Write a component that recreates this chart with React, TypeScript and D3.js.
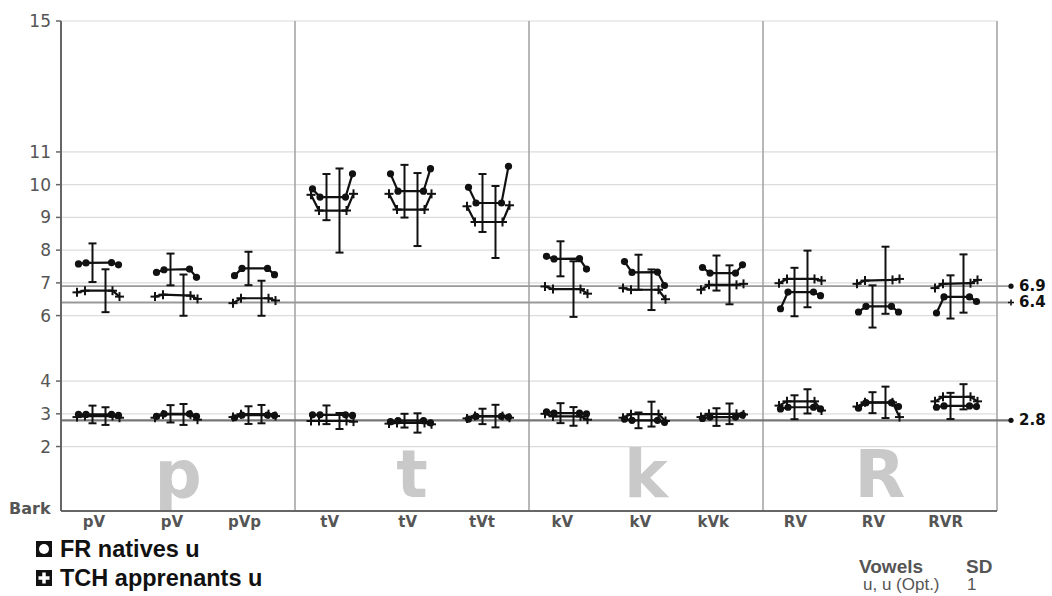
import React from "react";
import * as d3 from "d3";

const groups = ["p", "t", "k", "R"];
const categories = ["pV", "pV", "pVp", "tV", "tV", "tVt", "kV", "kV", "kVk", "RV", "RV", "RVR"];
const yTicks = [2, 3, 4, 6, 7, 8, 9, 10, 11, 15];

// F2 trajectories (Bark), 4 points each
const frF2 = [
  [7.58, 7.61, 7.62, 7.55],
  [7.32, 7.4, 7.42, 7.17],
  [7.22, 7.44, 7.44, 7.25],
  [9.87, 9.62, 9.62, 10.33],
  [10.33, 9.8, 9.8, 10.49],
  [9.92, 9.44, 9.44, 10.56],
  [7.81, 7.73, 7.74, 7.42],
  [7.65, 7.32, 7.33, 6.92],
  [7.47, 7.3, 7.3, 7.55],
  [6.21, 6.72, 6.72, 6.61],
  [6.11, 6.28, 6.28, 6.11],
  [6.08, 6.57, 6.57, 6.43],
];
const tchF2 = [
  [6.71, 6.76, 6.76, 6.58],
  [6.58, 6.64, 6.61, 6.51],
  [6.38, 6.53, 6.53, 6.46],
  [9.69, 9.21, 9.21, 9.72],
  [9.72, 9.24, 9.24, 9.72],
  [9.34, 8.86, 8.86, 9.37],
  [6.89, 6.81, 6.81, 6.67],
  [6.84, 6.79, 6.79, 6.5],
  [6.79, 6.94, 6.94, 6.97],
  [6.99, 7.12, 7.12, 7.07],
  [6.97, 7.07, 7.09, 7.12],
  [6.84, 6.97, 6.99, 7.09],
];
// F1 trajectories
const frF1 = [
  [2.98, 2.98, 2.98, 2.95],
  [2.92, 3.0, 3.0, 2.92],
  [2.88, 2.96, 2.96, 2.95],
  [2.97, 2.97, 2.97, 2.95],
  [2.76, 2.79, 2.79, 2.72],
  [2.84, 2.92, 2.92, 2.9],
  [3.06, 3.02, 3.02, 3.0],
  [2.84, 2.8, 2.8, 2.74],
  [2.86, 2.9, 2.9, 2.96],
  [3.15, 3.2, 3.2, 3.15],
  [3.17, 3.34, 3.34, 3.22],
  [3.2, 3.24, 3.24, 3.22],
];
const tchF1 = [
  [2.9, 2.93, 2.93, 2.88],
  [2.88, 2.98, 2.98, 2.82],
  [2.9, 2.99, 2.99, 2.93],
  [2.78, 2.78, 2.78, 2.76],
  [2.7, 2.72, 2.72, 2.68],
  [2.86, 2.93, 2.93, 2.88],
  [3.0, 2.92, 2.92, 2.82],
  [2.88, 2.99, 2.99, 2.78],
  [2.9, 3.0, 3.0, 2.98],
  [3.25, 3.38, 3.38, 3.1],
  [3.22, 3.35, 3.35, 2.9],
  [3.38, 3.52, 3.52, 3.38],
];
// Standard deviations (Bark)
const frF2SD = [0.59, 0.485, 0.51, 0.705, 0.805, 0.885, 0.535, 0.535, 0.535, 0.74, 0.645, 0.66];
const tchF2SD = [0.655, 0.63, 0.535, 1.285, 1.115, 1.1, 0.85, 0.62, 0.595, 0.865, 1.025, 0.89];
const frF1SD = [0.27, 0.265, 0.27, 0.285, 0.21, 0.235, 0.305, 0.24, 0.27, 0.365, 0.32, 0.4];
const tchF1SD = [0.27, 0.32, 0.28, 0.245, 0.295, 0.345, 0.285, 0.38, 0.315, 0.37, 0.48, 0.385];

const refValues = [6.9, 6.4, 2.8];
const refMarkers = ["circle", "plus", "circle"];

const W = 1052;
const H = 596;
const L = 61;
const R = 997;
const TOP = 21;
const BOT = 512;

const y = d3.scaleLinear().domain([0, 15]).range([BOT, TOP]);
const gx = d3.scaleLinear().domain([0, 4]).range([L, R]);
const groupW = gx(1) - gx(0);
const dataX = (i: number) => gx(Math.floor(i / 3)) + 37.5 + (i % 3) * (groupW / 3);

const frOff = [-20, -12.5, 13, 20];
const tchOff = [-21.5, -13.5, 14, 21];
const frBar = -6;
const tchBar = 7;
const INK = "#111";
const refLabelDy = [5, 4.5, 4.5];

const line = d3
  .line<[number, number]>()
  .x((d) => d[0])
  .y((d) => d[1]);

function Plus({ x, yy, s = 4.5, w = 2, c = INK }: any) {
  return (
    <g stroke={c} strokeWidth={w}>
      <line x1={x - s} x2={x + s} y1={yy} y2={yy} />
      <line x1={x} x2={x} y1={yy - s} y2={yy + s} />
    </g>
  );
}

function Traj({ cx, vals, off, kind }: any) {
  const pts: [number, number][] = vals.map((v: number, j: number) => [cx + off[j], y(v)]);
  return (
    <g>
      <path d={line(pts) || ""} fill="none" stroke={INK} strokeWidth={2.2} />
      {pts.map((p, j) =>
        kind === "circle" ? (
          <circle key={j} cx={p[0]} cy={p[1]} r={3.6} fill={INK} />
        ) : (
          <Plus key={j} x={p[0]} yy={p[1]} />
        )
      )}
    </g>
  );
}

function ErrBar({ x, vals, sd }: any) {
  const m = (vals[1] + vals[2]) / 2;
  const y1 = y(m + sd);
  const y2 = y(m - sd);
  return (
    <g stroke={INK} strokeWidth={2}>
      <line x1={x} x2={x} y1={y1} y2={y2} />
      <line x1={x - 4} x2={x + 4} y1={y1} y2={y1} />
      <line x1={x - 4} x2={x + 4} y1={y2} y2={y2} />
    </g>
  );
}

export default function App() {
  return (
    <svg
      width={W}
      height={H}
      style={{ position: "absolute", left: 0, top: 0, background: "#fff" }}
      fontFamily="DejaVu Sans, Verdana, sans-serif"
    >
      {/* grid */}
      {yTicks.map((t) => (
        <line key={t} x1={L} x2={R} y1={y(t)} y2={y(t)} stroke="#dcdcdc" strokeWidth={1.2} />
      ))}
      {/* big group letters */}
      {groups.map((g, i) => (
        <text
          key={g}
          x={(gx(i) + gx(i + 1)) / 2}
          y={497}
          textAnchor="middle"
          fontSize={66}
          fontWeight="bold"
          fill="#c9c9c9"
        >
          {g}
        </text>
      ))}
      {/* group dividers */}
      {[1, 2, 3].map((i) => (
        <line key={i} x1={gx(i)} x2={gx(i)} y1={TOP} y2={BOT - 1} stroke="#a0a0a0" strokeWidth={1.5} />
      ))}
      <line x1={R} x2={R} y1={TOP} y2={BOT - 1} stroke="#a0a0a0" strokeWidth={1.5} />
      {/* reference lines */}
      {refValues.map((v, i) => (
        <g key={i}>
          <line x1={L} x2={1009} y1={y(v)} y2={y(v)} stroke={i === 2 ? "#777" : "#999"} strokeWidth={i === 2 ? 2.2 : 1.8} />
          {refMarkers[i] === "circle" ? (
            <circle cx={1011} cy={y(v)} r={2.6} fill={INK} />
          ) : (
            <Plus x={1011} yy={y(v)} s={3} w={1.6} />
          )}
          <text x={1019} y={y(v) + refLabelDy[i]} fontSize={15} fontWeight="bold" fill={INK}>
            {v.toFixed(1)}
          </text>
        </g>
      ))}
      {/* axes */}
      <line x1={L} x2={L} y1={TOP} y2={BOT - 1} stroke="#666" strokeWidth={2} />
      <line x1={L} x2={R} y1={BOT - 1} y2={BOT - 1} stroke="#666" strokeWidth={2} />
      {yTicks.map((t) => (
        <g key={t}>
          <line x1={L - 5} x2={L} y1={y(t)} y2={y(t)} stroke="#666" strokeWidth={1.5} />
          <text x={51} y={y(t) + 6} textAnchor="end" fontSize={17} fill="#555">
            {t}
          </text>
        </g>
      ))}
      <text x={9} y={514} fontSize={16} fontWeight="bold" fill="#555">
        Bark
      </text>
      {categories.map((c, i) => (
        <text key={i} x={dataX(i) + 6.5} y={527} textAnchor="end" fontSize={15} fontWeight="bold" fill="#555">
          {c}
        </text>
      ))}
      {/* data */}
      {categories.map((c, i) => {
        const cx = dataX(i);
        return (
          <g key={i}>
            <Traj cx={cx} vals={frF2[i]} off={frOff} kind="circle" />
            <Traj cx={cx} vals={tchF2[i]} off={tchOff} kind="plus" />
            <Traj cx={cx} vals={frF1[i]} off={frOff} kind="circle" />
            <Traj cx={cx} vals={tchF1[i]} off={tchOff} kind="plus" />
            <ErrBar x={cx + frBar} vals={frF2[i]} sd={frF2SD[i]} />
            <ErrBar x={cx + tchBar} vals={tchF2[i]} sd={tchF2SD[i]} />
            <ErrBar x={cx + frBar} vals={frF1[i]} sd={frF1SD[i]} />
            <ErrBar x={cx + tchBar} vals={tchF1[i]} sd={tchF1SD[i]} />
          </g>
        );
      })}
      {/* legend */}
      <g fontFamily="Liberation Sans, Arial, sans-serif" fontWeight="bold" fontSize={23.5} fill="#111">
        <rect x={36} y={541} width={16} height={16} fill="#111" />
        <circle cx={44} cy={549} r={5} fill="#fff" />
        <text x={60} y={557}>FR natives u</text>
        <rect x={36} y={570} width={16} height={16} fill="#111" />
        <Plus x={44} yy={578} s={5.5} w={3.5} c="#fff" />
        <text x={60} y={586}>TCH apprenants u</text>
      </g>
      <g fontFamily="Liberation Sans, Arial, sans-serif" fill="#555">
        <text x={859} y={573} fontSize={19} fontWeight="bold">Vowels</text>
        <text x={966} y={573} fontSize={19} fontWeight="bold">SD</text>
        <text x={863} y={590} fontSize={17}>u, u (Opt.)</text>
        <text x={967} y={590} fontSize={17}>1</text>
      </g>
    </svg>
  );
}
